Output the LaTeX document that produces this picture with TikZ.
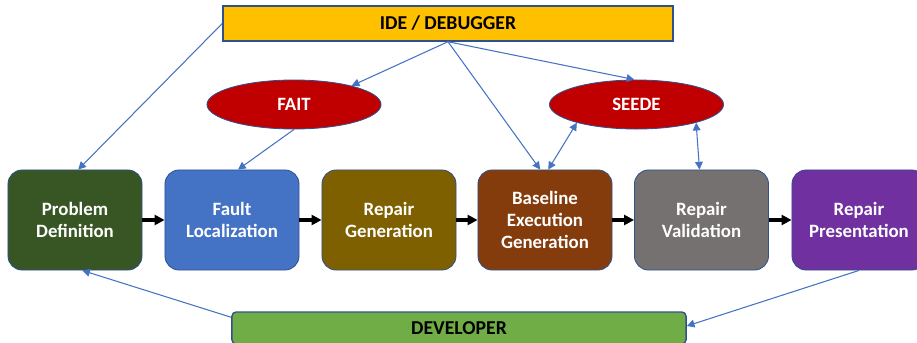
\documentclass[tikz,border=0pt]{standalone}
\usepackage{fontspec}
\setmainfont{Carlito}
\usetikzlibrary{shapes.geometric,arrows.meta}

% Colours of the slide
\definecolor{r55g86b35}{RGB}{55,86,35}
\definecolor{r68g114b196}{RGB}{68,114,196}
\definecolor{r127g96b0}{RGB}{127,96,0}
\definecolor{r132g60b12}{RGB}{132,60,12}
\definecolor{r118g113b113}{RGB}{118,113,113}
\definecolor{r112g48b160}{RGB}{112,48,160}
\definecolor{r112g173b71}{RGB}{112,173,71}
\definecolor{r255g192b0}{RGB}{255,192,0}
\definecolor{r192g0b0}{RGB}{192,0,0}
\definecolor{r47g82b143}{RGB}{47,82,143}

\tikzset{
  stagebox/.style={draw=r47g82b143, line width=0.6pt, rounded corners=0.35cm,
    minimum width=3.35cm, minimum height=2.5cm, align=center, text=white,
    font=\bfseries\fontsize{13.4}{15.6}\selectfont},
  toolshape/.style={ellipse, draw=r47g82b143, line width=0.6pt, fill=r192g0b0,
    minimum width=4.35cm, minimum height=1.225cm, text=white,
    font=\bfseries\fontsize{13.4}{15.6}\selectfont},
  barbox/.style={draw=r47g82b143, line width=1pt, text=black,
    font=\bfseries\fontsize{14}{16}\selectfont},
  flowarrow/.style={-{Triangle[length=7pt,width=7pt]}, line width=2.2pt, black},
  linkarrow/.style={-{Triangle[length=5.5pt,width=5.5pt]}, draw=r68g114b196, line width=0.75pt},
  bothlink/.style={linkarrow, {Triangle[length=5.5pt,width=5.5pt]}-{Triangle[length=5.5pt,width=5.5pt]}}
}

\begin{document}
\begin{tikzpicture}[x=0.025cm, y=-0.025cm]
  \useasboundingbox (0,0) rectangle (917,343);

  % Bars on top and at the bottom
  \node [barbox, fill=r255g192b0, minimum width=11.25cm, minimum height=0.875cm] (ide) at (448,23.5) {IDE / DEBUGGER};
  \node [barbox, fill=r112g173b71, rounded corners=3pt, minimum width=11.35cm, minimum height=0.8cm] (dev) at (459,328) {DEVELOPER};

  % Tools
  \node [toolshape] (fait) at (294,104.5) {FAIT};
  \node [toolshape] (seede) at (636.5,104.5) {SEEDE};

  % Stages of the repair
  \node [stagebox, fill=r55g86b35] (pd) at (75,220) {Problem\\Definition};
  \node [stagebox, fill=r68g114b196] (fl) at (232,220) {Fault\\Localization};
  \node [stagebox, fill=r127g96b0] (rg) at (389,220) {Repair\\Generation};
  \node [stagebox, fill=r132g60b12] (bl) at (545,220) {Baseline\\Execution\\Generation};
  \node [stagebox, fill=r118g113b113] (rv) at (701.5,220) {Repair\\Validation};
  \node [stagebox, fill=r112g48b160] (rp) at (859,220) {Repair\\Presentation};

  % Flow between the stages
  \draw [flowarrow] (pd.east) -- (fl.west);
  \draw [flowarrow] (fl.east) -- (rg.west);
  \draw [flowarrow] (rg.east) -- (bl.west);
  \draw [flowarrow] (bl.east) -- (rv.west);
  \draw [flowarrow] (rv.east) -- (rp.west);

  % Links of the IDE
  \draw [linkarrow] (ide.west) -- ([xshift=0.08cm]pd.north);
  \draw [linkarrow] (ide.south) -- (fait.18);
  \draw [linkarrow] (ide.south) -- ([xshift=-0.12cm]bl.north);
  \draw [linkarrow] (ide.south) -- (seede.95);

  % Links of the tools
  \draw [linkarrow] (fait.south) -- ([xshift=0.15cm]fl.north);
  \draw [bothlink] (seede.197) -- ([xshift=0.08cm]bl.north);
  \draw [bothlink] (seede.343) -- ([xshift=-0.05cm]rv.north);

  % Links of the developer
  \draw [linkarrow] ([yshift=-0.15cm]dev.north west) -- ([xshift=0.18cm]pd.south);
  \draw [linkarrow] (rp.south) -- ([yshift=0.05cm]dev.east);
\end{tikzpicture}
\end{document}
